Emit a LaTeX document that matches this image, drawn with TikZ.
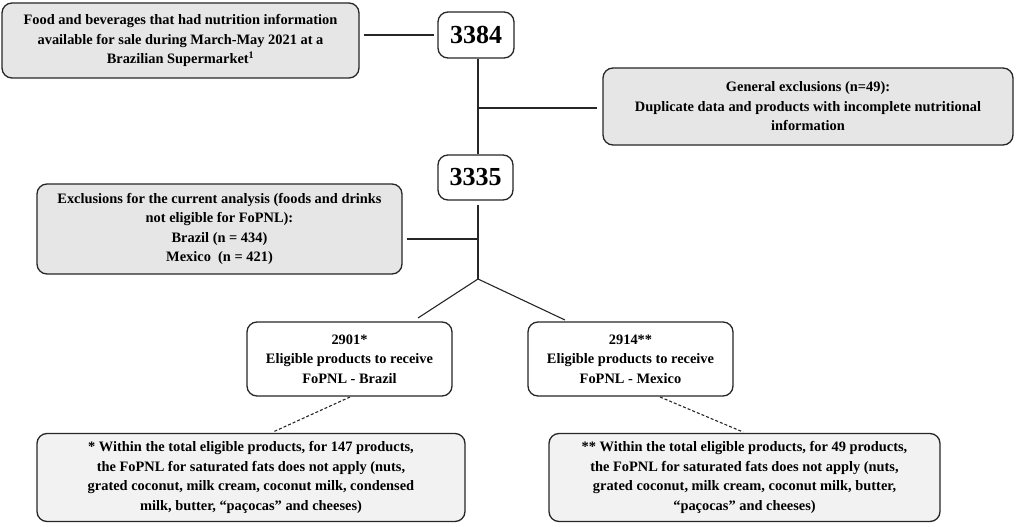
\documentclass[tikz,border=0pt]{standalone}
\usepackage{fontspec}
\setmainfont{Liberation Serif}
\definecolor{boxgray}{HTML}{E6E6E6}
\definecolor{notegray}{HTML}{F2F2F2}
\begin{document}
\begin{tikzpicture}[x=1pt,y=-1pt,
  base/.style={draw=black!85, line width=1.3pt, rounded corners=10pt, align=center, inner sep=0pt,
    font=\bfseries\fontsize{14.4}{19.5}\selectfont},
  graybox/.style={base, fill=boxgray},
  notebox/.style={base, fill=notegray},
  whitebox/.style={base, fill=white},
  numbox/.style={base, fill=white, font=\bfseries\fontsize{26}{28}\selectfont},
  conn/.style={line width=1.1pt, draw=black!85},
  dconn/.style={line width=1.1pt, draw=black!85, dash pattern=on 3pt off 2pt}]
\useasboundingbox (0,0) rectangle (1021,527);

\node[graybox, minimum width=357pt, minimum height=75pt] (src) at (180.5,40.5)
  {Food and beverages that had nutrition information\\available for sale during March-May 2021 at a\\Brazilian Supermarket\textsuperscript{1}};
\node[numbox, minimum width=76pt, minimum height=46pt] (n1) at (476,35) {3384};
\node[graybox, minimum width=410pt, minimum height=77pt] (gen) at (808,106.5)
  {General exclusions (n=49):\\Duplicate data and products with incomplete nutritional\\information};
\node[numbox, minimum width=75pt, minimum height=45pt] (n2) at (475.5,177.5) {3335};
\node[graybox, minimum width=365pt, minimum height=90pt] (excl) at (219.5,229)
  {Exclusions for the current analysis (foods and drinks\\not eligible for FoPNL):\\Brazil (n = 434)\\Mexico~~(n = 421)};
\node[whitebox, minimum width=205pt, minimum height=74pt] (bra) at (349.5,359)
  {2901*\\Eligible products to receive\\FoPNL - Brazil};
\node[whitebox, minimum width=205pt, minimum height=74pt] (mex) at (630.5,359)
  {2914**\\Eligible products to receive\\FoPNL - Mexico};
\node[notebox, minimum width=428pt, minimum height=88pt] (fb) at (251,477.5)
  {* Within the total eligible products, for 147 products,\\the FoPNL for saturated fats does not apply (nuts,\\grated coconut, milk cream, coconut milk, condensed\\milk, butter, “paçocas” and cheeses)};
\node[notebox, minimum width=391pt, minimum height=88pt] (fm) at (744.5,477.5)
  {** Within the total eligible products, for 49 products,\\the FoPNL for saturated fats does not apply (nuts,\\grated coconut, milk cream, coconut milk, butter,\\“paçocas” and cheeses)};

\coordinate (j0) at (400,35);
\coordinate (j1) at (478,108);
\coordinate (j2) at (478,239);
\coordinate (j3) at (478,279);
\coordinate (bt) at (418,318);
\coordinate (mt) at (565,320);
\coordinate (bs) at (350,397);
\coordinate (fbt) at (273,432);
\coordinate (ms) at (660,397);
\coordinate (fmt) at (743,432);

\draw[conn, shorten <=4pt, shorten >=3pt] (src.east |- j0) -- (n1.west);
\draw[conn] (n1.south -| j1) -- (n2.north -| j1);
\draw[conn, shorten >=5pt] (j1) -- (gen.west |- j1);
\draw[conn, shorten <=4pt] (excl.east |- j2) -- (j2);
\draw[conn, shorten <=4pt] (n2.south -| j3) -- (j3);
\draw[conn] (j3) -- (bt);
\draw[conn] (j3) -- (mt);
\draw[dconn] (bs) -- (fbt);
\draw[dconn] (ms) -- (fmt);
\end{tikzpicture}
\end{document}
